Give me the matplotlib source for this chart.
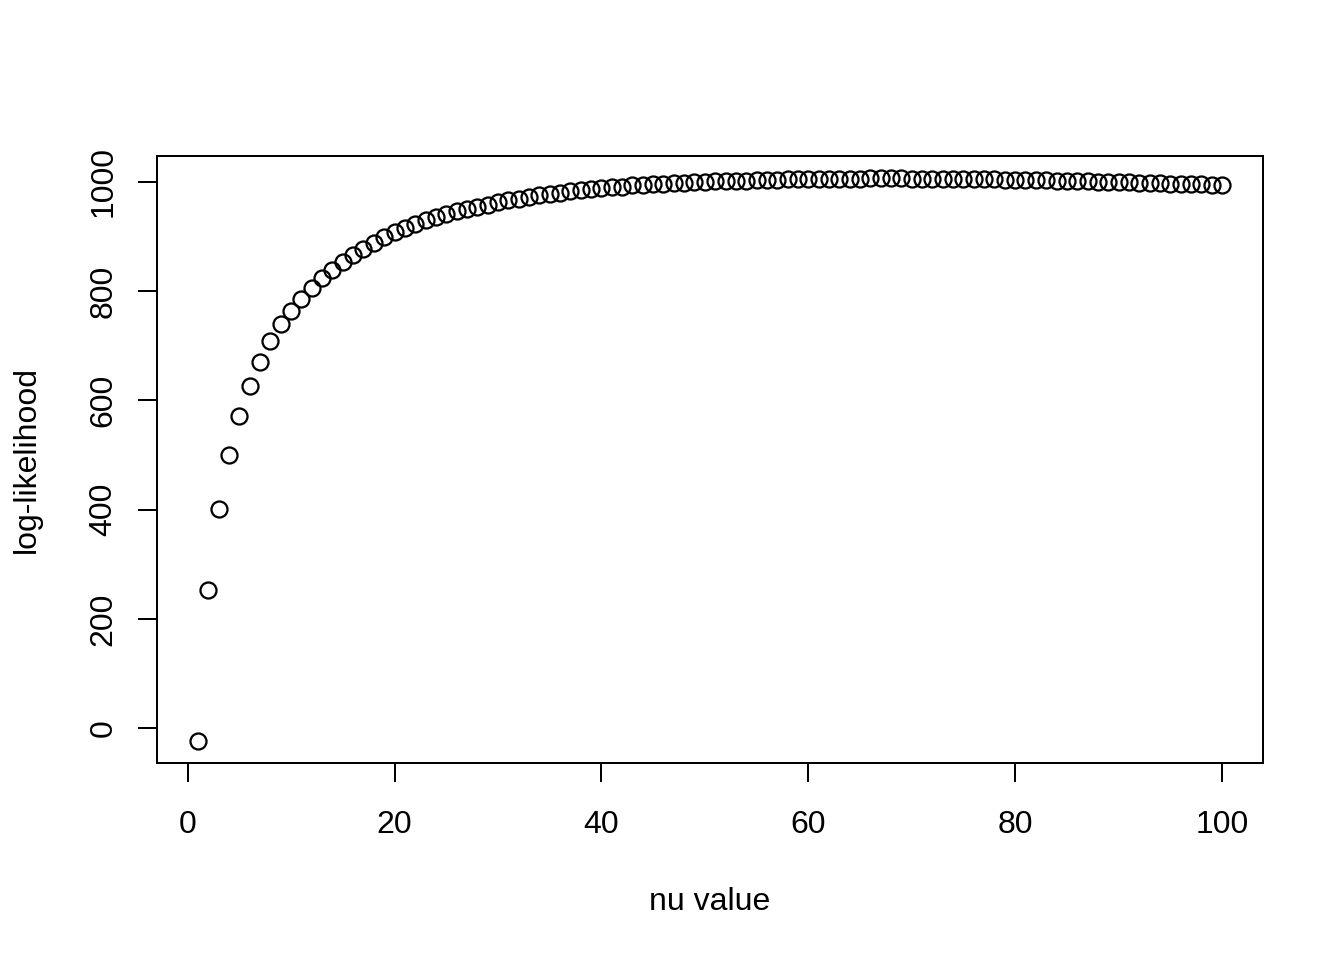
import matplotlib
matplotlib.use("Agg")
import matplotlib.pyplot as plt
import numpy as np

plt.rcParams['font.family'] = ['Liberation Sans', 'DejaVu Sans']

nu = list(range(1, 101))
loglik = [
    -22, 253, 401, 500, 571, 627, 671, 708, 739, 764,
    786, 806, 823, 839, 853, 866, 877, 888, 898, 907,
    915, 922, 929, 935, 941, 946, 950, 954, 958, 962,
    966, 969, 972, 975, 978, 980, 982, 984, 986, 988,
    990, 991, 993, 994, 995, 996, 997, 998, 999, 1000,
    1000.5, 1001, 1001.5, 1002, 1002.5, 1003, 1003.5, 1004, 1004.3, 1004.6,
    1004.9, 1005.1, 1005.3, 1005.5, 1005.6, 1005.7, 1005.7, 1005.7, 1005.7, 1005.6,
    1005.5, 1005.4, 1005.2, 1005.0, 1004.8, 1004.6, 1004.3, 1004.0, 1003.7, 1003.4,
    1003.0, 1002.7, 1002.3, 1001.9, 1001.5, 1001.1, 1000.6, 1000.1, 999.6, 999.1,
    998.6, 998.1, 997.6, 997.0, 996.5, 995.9, 995.3, 994.7, 994.1, 993.5,
]
xticks = [0, 20, 40, 60, 80, 100]
yticks = [0, 200, 400, 600, 800, 1000]

fig = plt.figure(figsize=(7, 5), dpi=192)
ax = fig.add_axes([157/1344, 1 - 763/960, (1263-157)/1344, (763-156)/960])

ax.plot(nu, loglik, linestyle='none', marker='o', markersize=6.0,
        markerfacecolor='none', markeredgecolor='black', markeredgewidth=0.85)

xmin, xmax = min(nu), max(nu)
ymin, ymax = min(loglik), max(loglik)
dx = (xmax - xmin) * 0.04
dy = (ymax - ymin) * 0.04
ax.set_xlim(xmin - dx, xmax + dx)
ax.set_ylim(ymin - dy, ymax + dy)

ax.set_xticks(xticks)
ax.set_yticks(yticks)
ax.set_yticklabels([str(v) for v in yticks], rotation=90, va='center')
ax.tick_params(axis='both', direction='out', length=7.2, width=0.75,
               labelsize=12, colors='black')
ax.tick_params(axis='x', pad=10.5)
ax.tick_params(axis='y', pad=7.2)
for s in ax.spines.values():
    s.set_linewidth(0.75)

ax.set_xlabel('nu value', fontsize=12, labelpad=17.5)
ax.set_ylabel('log-likelihood', fontsize=12, labelpad=17.5)

fig.savefig('out.png', dpi=192)
